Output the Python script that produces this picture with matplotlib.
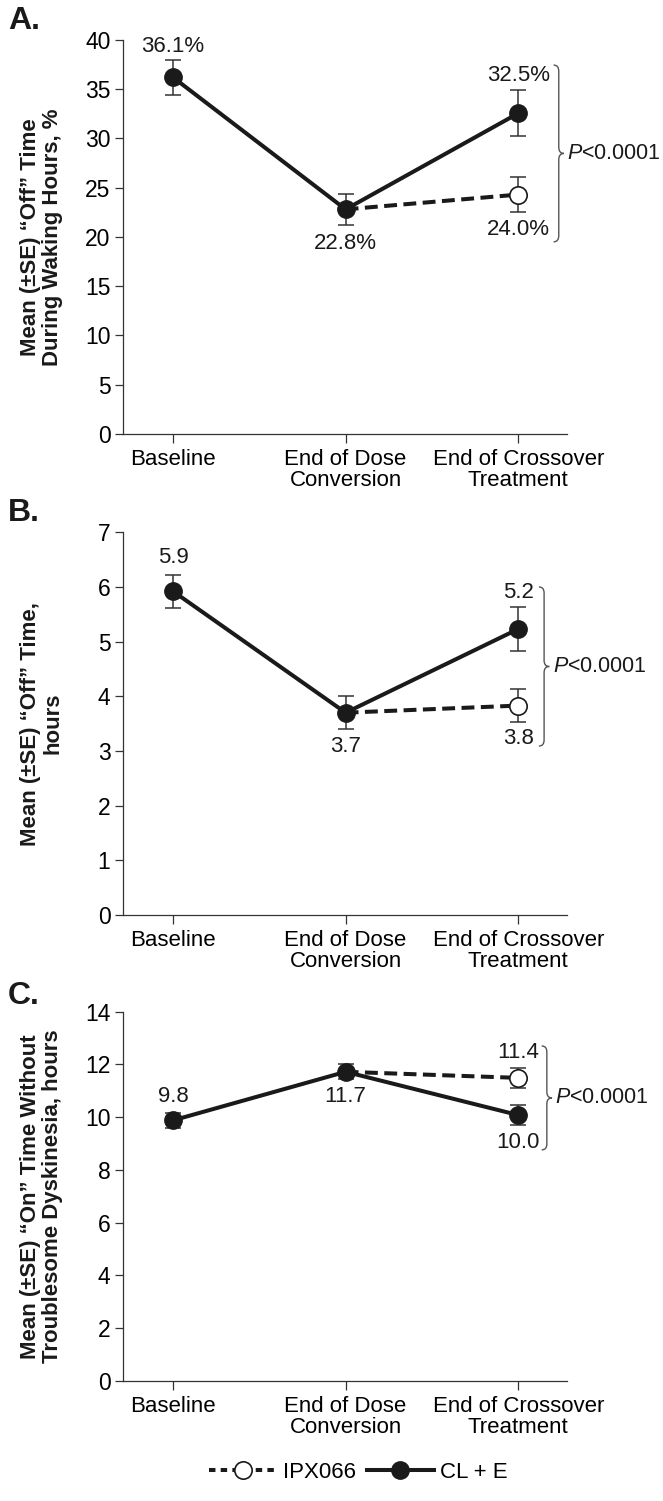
import numpy as np
import matplotlib
matplotlib.use('Agg')
import matplotlib.pyplot as plt
from matplotlib.path import Path
from matplotlib.patches import PathPatch
from matplotlib.lines import Line2D

plt.rcParams['font.family'] = ['Liberation Sans', 'DejaVu Sans']
plt.rcParams['mathtext.fontset'] = 'custom'
plt.rcParams['mathtext.it'] = 'Liberation Sans:italic'
plt.rcParams['mathtext.rm'] = 'Liberation Sans'

INK = '#1a1a1a'
GREY = '#333333'

categories = ['Baseline', 'End of Dose\nConversion', 'End of Crossover\nTreatment']

# A. "off" time during waking hours, %
a_cle = [36.2, 22.8, 32.55]
a_cle_se = [1.8, 1.6, 2.35]
a_ipx = [36.2, 22.8, 24.3]
a_ipx_se = [1.8, 1.6, 1.8]
a_labels = ['36.1%', '22.8%', '32.5%', '24.0%']
a_brace = (19.5, 37.45)

# B. "off" time, hours
b_cle = [5.92, 3.70, 5.23]
b_cle_se = [0.30, 0.30, 0.40]
b_ipx = [5.92, 3.70, 3.83]
b_ipx_se = [0.30, 0.30, 0.30]
b_labels = ['5.9', '3.7', '5.2', '3.8']
b_brace = (3.09, 6.0)

# C. "on" time without troublesome dyskinesia, hours
c_cle = [9.88, 11.72, 10.08]
c_cle_se = [0.29, 0.28, 0.38]
c_ipx = [9.88, 11.72, 11.49]
c_ipx_se = [0.29, 0.28, 0.39]
c_labels = ['9.8', '11.7', '10.0', '11.4']
c_brace = (8.76, 12.7)

p_text = '$P$<0.0001'


def brace(ax, x, y0, y1, w, d):
    ym = (y0 + y1) / 2
    verts = [(x - w, y1), (x, y1), (x, y1 - d),
             (x, ym + d), (x, ym), (x + w, ym),
             (x, ym), (x, ym - d),
             (x, y0 + d), (x, y0), (x - w, y0)]
    codes = [Path.MOVETO, Path.CURVE3, Path.CURVE3,
             Path.LINETO, Path.CURVE3, Path.CURVE3,
             Path.CURVE3, Path.CURVE3,
             Path.LINETO, Path.CURVE3, Path.CURVE3]
    ax.add_patch(PathPatch(Path(verts, codes), fc='none', ec='#555555',
                           lw=1.0, clip_on=False))


def panel(ax, cle, cle_se, ipx, ipx_se, labels, offs, ymax, step, br, bx, ylabel):
    x = np.arange(3)
    ax.plot(x[1:], ipx[1:], color=INK, lw=2.9, dashes=(3.2, 1.6), zorder=2)
    ax.plot(x, cle, color=INK, lw=2.9, zorder=2)
    ax.errorbar(x, cle, yerr=cle_se, fmt='none', ecolor=GREY, elinewidth=1.1,
                capsize=6, capthick=1.1, zorder=3)
    ax.errorbar(x[2], ipx[2], yerr=ipx_se[2], fmt='none', ecolor=GREY,
                elinewidth=1.1, capsize=6, capthick=1.1, zorder=3)
    ax.plot(x, cle, 'o', ms=12.5, mfc=INK, mec=INK, zorder=4)
    ax.plot(x[2], ipx[2], 'o', ms=12.5, mfc='white', mec=INK, mew=1.2, zorder=4)

    pts = [(0, cle[0]), (1, cle[1]), (2, cle[2]), (2, ipx[2])]
    for (px, py), txt, o in zip(pts, labels, offs):
        ax.annotate(txt, (px, py), xytext=(0, o), textcoords='offset points',
                    ha='center', va='center', fontsize=16, color=INK)

    d = 0.016 * ymax
    brace(ax, bx, br[0], br[1], 0.03, d)
    ax.text(bx + 0.05, (br[0] + br[1]) / 2, p_text, fontsize=15.5, color=INK,
            ha='left', va='center', clip_on=False)

    ax.set_xlim(-0.29, 2.28)
    ax.set_ylim(0, ymax)
    ax.set_yticks(np.arange(0, ymax + 0.01, step))
    ax.set_xticks(x)
    ax.set_xticklabels(categories, linespacing=1.05)
    for s in ['top', 'right']:
        ax.spines[s].set_visible(False)
    for s in ['left', 'bottom']:
        ax.spines[s].set_linewidth(0.9)
        ax.spines[s].set_color(GREY)
    ax.tick_params(axis='y', length=6, width=0.9, color=GREY, labelsize=16.5, pad=3)
    ax.tick_params(axis='x', length=6.5, width=0.9, color=GREY, labelsize=16, pad=4)
    ax.set_ylabel(ylabel, fontsize=16, fontweight='bold', linespacing=1.08, color=INK)
    ax.yaxis.set_label_coords(-0.135, 0.5)


fig = plt.figure(figsize=(6.63, 15.01), dpi=100)
L, W = 0.1855, 0.669
axA = fig.add_axes([L, 0.7109, W, 0.2625])
axB = fig.add_axes([L, 0.3904, W, 0.2550])
axC = fig.add_axes([L, 0.0800, W, 0.2460])

panel(axA, a_cle, a_cle_se, a_ipx, a_ipx_se, a_labels, [22, -24.5, 27, -25],
      40, 5, a_brace, 2.235,
      'Mean (\u00b1SE) \u201cOff\u201d Time\nDuring Waking Hours, %')
panel(axB, b_cle, b_cle_se, b_ipx, b_ipx_se, b_labels, [24, -24, 26, -24],
      7, 1, b_brace, 2.15,
      'Mean (\u00b1SE) \u201cOff\u201d Time,\nhours')
panel(axC, c_cle, c_cle_se, c_ipx, c_ipx_se, c_labels, [17, -18, -19.5, 18],
      14, 2, c_brace, 2.166,
      'Mean (\u00b1SE) \u201cOn\u201d Time Without\nTroublesome Dyskinesia, hours')

for lab, yc in [('A.', 21), ('B.', 513), ('C.', 996)]:
    fig.text(8 / 663, 1 - yc / 1501, lab, fontsize=23, fontweight='bold',
             ha='left', va='center', color=INK)

handles = [Line2D([], [], color=INK, lw=2.9, dashes=(1.6, 1.3), marker='o', ms=12.5,
                  mfc='white', mec=INK, mew=1.2),
           Line2D([], [], color=INK, lw=2.9, marker='o', ms=12.5, mfc=INK, mec=INK)]
fig.legend(handles, ['IPX066', 'CL + E'], loc='center',
           bbox_to_anchor=(0.541, 1 - 1472 / 1501), ncol=2, frameon=False,
           fontsize=16, handlelength=3.0, handletextpad=0.3, columnspacing=0.5)

fig.savefig('out.png', dpi=100)
